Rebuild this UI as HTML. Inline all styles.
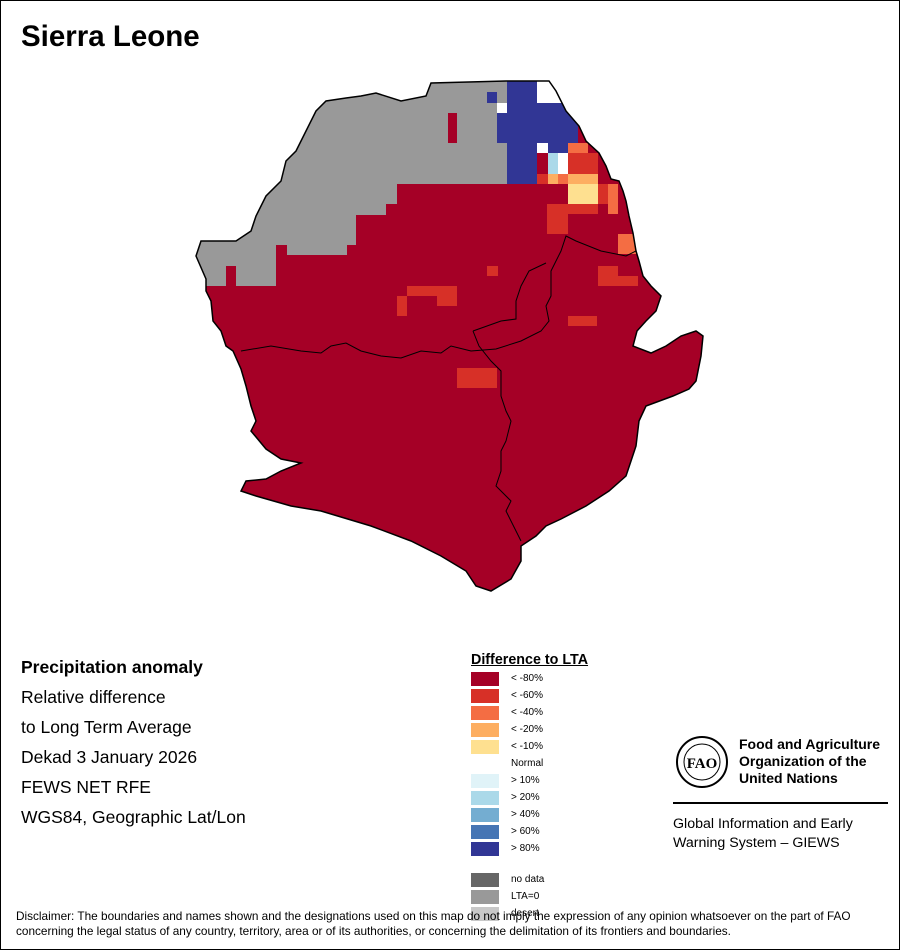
<!DOCTYPE html>
<html><head><meta charset="utf-8"><style>
body{margin:0;background:#fff;font-family:"Liberation Sans",sans-serif}
#page{position:relative;width:898px;height:948px;border:1px solid #000;overflow:hidden;background:#fff}
.t{position:absolute;white-space:nowrap;color:#000}
</style></head><body>
<div id="page">
<div class="t" style="left:20px;top:19px;font-size:29.5px;font-weight:bold">Sierra Leone</div>
<svg style="position:absolute;left:0;top:0" width="900" height="620">
<defs><clipPath id="cc"><polygon id="outline" points="430,82 505,80 548,80 555,90 565,110 578,125 585,140 598,152 605,165 610,178 618,180 622,190 625,200 628,215 632,232 635,250 638,260 642,275 650,285 660,295 655,310 645,320 636,330 632,345 650,352 665,345 680,335 695,330 702,335 700,355 695,380 688,388 672,395 645,405 638,420 635,445 630,460 625,475 608,490 585,505 560,518 545,525 535,535 520,545 520,560 510,578 490,590 475,585 465,570 440,555 410,540 370,525 320,510 290,505 255,495 240,490 245,480 265,478 280,470 300,462 280,458 265,448 250,430 255,420 250,405 245,385 240,368 232,350 225,345 220,330 212,320 210,300 205,290 205,278 195,255 200,240 215,240 235,240 250,230 255,215 265,195 280,180 285,160 295,150 305,130 315,110 325,100 345,97 360,95 375,92 400,100 425,95"/></clipPath></defs>
<g clip-path="url(#cc)">
<rect x="150" y="60" width="600" height="560" fill="#a50026"/>
<polygon fill="#999" points="150,60 517,60 517,183 396,183 396,203 385,203 385,214 355,214 355,244 346,244 346,254 286,254 286,244 275,244 275,285 235,285 235,265 225,265 225,285 150,285"/>
<g id="cells"></g>
<rect x="536" y="70" width="40" height="32" fill="#fff"/>
</g>
<use href="#outline" fill="none" stroke="#000" stroke-width="1.5"/>
<polyline fill="none" stroke="#000" stroke-width="1" points="240,350 270,345 300,350 320,352 330,345 345,342 360,350 380,355 400,357 420,350 440,352 450,345 470,350 495,348 520,340 540,330 548,320 545,305 550,295 550,270 560,250 565,235 575,240 600,250 625,255 635,250"/>
<polyline fill="none" stroke="#000" stroke-width="1" points="472,330 500,320 515,318 515,300 520,285 528,270 545,262"/>
<polyline fill="none" stroke="#000" stroke-width="1" points="472,330 478,345 490,360 500,370 500,395 505,410 510,420 505,440 500,450 500,470 495,485 510,500 505,510 510,520 520,540"/>
</svg>
<div class="t" style="left:20px;top:656px;font-size:17.5px;font-weight:bold">Precipitation anomaly</div>
<div class="t" style="left:20px;top:686px;font-size:17.5px">Relative difference</div>
<div class="t" style="left:20px;top:716px;font-size:17.5px">to Long Term Average</div>
<div class="t" style="left:20px;top:746px;font-size:17.5px">Dekad 3 January 2026</div>
<div class="t" style="left:20px;top:776px;font-size:17.5px">FEWS NET RFE</div>
<div class="t" style="left:20px;top:806px;font-size:17.5px">WGS84, Geographic Lat/Lon</div>
<div class="t" style="left:470px;top:651px;font-size:14.3px;font-weight:bold;text-decoration:underline">Difference to LTA</div>
<div id="legend"></div>
<svg style="position:absolute;left:672px;top:733px" width="60" height="55">
<circle cx="29" cy="28" r="25" fill="none" stroke="#000" stroke-width="2"/>
<circle cx="29" cy="28" r="18" fill="none" stroke="#000" stroke-width="1"/>
<text x="29" y="34" font-size="15" font-weight="bold" text-anchor="middle" font-family="Liberation Serif">FAO</text>
</svg>
<div class="t" style="left:738px;top:735px;font-size:14px;font-weight:bold;line-height:17px">Food and Agriculture<br>Organization of the<br>United Nations</div>
<div style="position:absolute;left:672px;top:801px;width:215px;height:1.5px;background:#000"></div>
<div class="t" style="left:672px;top:814px;font-size:14.2px;line-height:19px">Global Information and Early<br>Warning System – GIEWS</div>
<div class="t" style="left:15px;top:908px;font-size:11.8px;line-height:15px">Disclaimer: The boundaries and names shown and the designations used on this map do not imply the expression of any opinion whatsoever on the part of FAO<br>concerning the legal status of any country, territory, area or of its authorities, or concerning the delimitation of its frontiers and boundaries.</div>
</div>
<script>
const cellX=[486,496,447,536,547,536,547,557,567,536,547,557,567,546,567,597,607,567,486,406,396,436,567,456,456,597,617,617,567];
const cellY=[91,102,112,142,142,152,152,152,152,173,173,173,173,203,183,183,183,203,265,285,295,295,315,367,387,265,275,233,142];
const cellW=[10,10,9,11,20,11,10,10,30,11,10,10,30,21,30,10,10,30,11,50,10,20,29,40,20,20,20,20,20];
const cellH=[11,10,30,10,10,21,21,21,21,10,10,10,10,30,20,20,30,10,10,10,20,10,10,20,10,20,10,20,10];
const cellC=["#313695","#fff","#a50026","#fff","#313695","#a50026","#abd9e9","#fff","#d73027","#d73027","#fdae61","#f46d43","#fdae61","#d73027","#fee090","#d73027","#f46d43","#d73027","#d73027","#d73027","#d73027","#d73027","#d73027","#d73027","#a50026","#d73027","#d73027","#f46d43","#f46d43"];
const blueX=[506,496,536,567];const blueY=[60,112,102,112];const blueW=[30,10,31,10];const blueH=[123,30,40,30];
const g=document.getElementById('cells');
const ns='http://www.w3.org/2000/svg';
for(let i=0;i<blueX.length;i++){const r=document.createElementNS(ns,'rect');


r.setAttribute('x',blueX[i]);r.setAttribute('y',blueY[i]);r.setAttribute('width',blueW[i]);r.setAttribute('height',blueH[i]);r.setAttribute('fill','#313695');g.appendChild(r);}
for(let i=0;i<cellX.length;i++){const r=document.createElementNS(ns,'rect');


r.setAttribute('x',cellX[i]);r.setAttribute('y',cellY[i]);r.setAttribute('width',cellW[i]);r.setAttribute('height',cellH[i]);r.setAttribute('fill',cellC[i]);g.appendChild(r);}
const legLabels=["< -80%","< -60%","< -40%","< -20%","< -10%","Normal","> 10%","> 20%","> 40%","> 60%","> 80%","","no data","LTA=0","desert"];
const legColors=["#a50026","#d73027","#f46d43","#fdae61","#fee090","#fff","#e0f3f8","#abd9e9","#74add1","#4575b4","#313695","","#666","#999","#c8c8c8"];
const L=document.getElementById('legend');
legLabels.forEach((t,i)=>{if(!t)return;const y=671+i*17+(i>=12?-3:0);
const s=document.createElement('div');


s.style.cssText=`position:absolute;left:470px;top:${y}px;width:28px;height:14px;background:${legColors[i]}`;L.appendChild(s);
const d=document.createElement('div');


d.className='t';d.style.cssText=`left:510px;top:${y+1}px;font-size:10px`;d.textContent=t;L.appendChild(d);});
</script>
</body></html>
